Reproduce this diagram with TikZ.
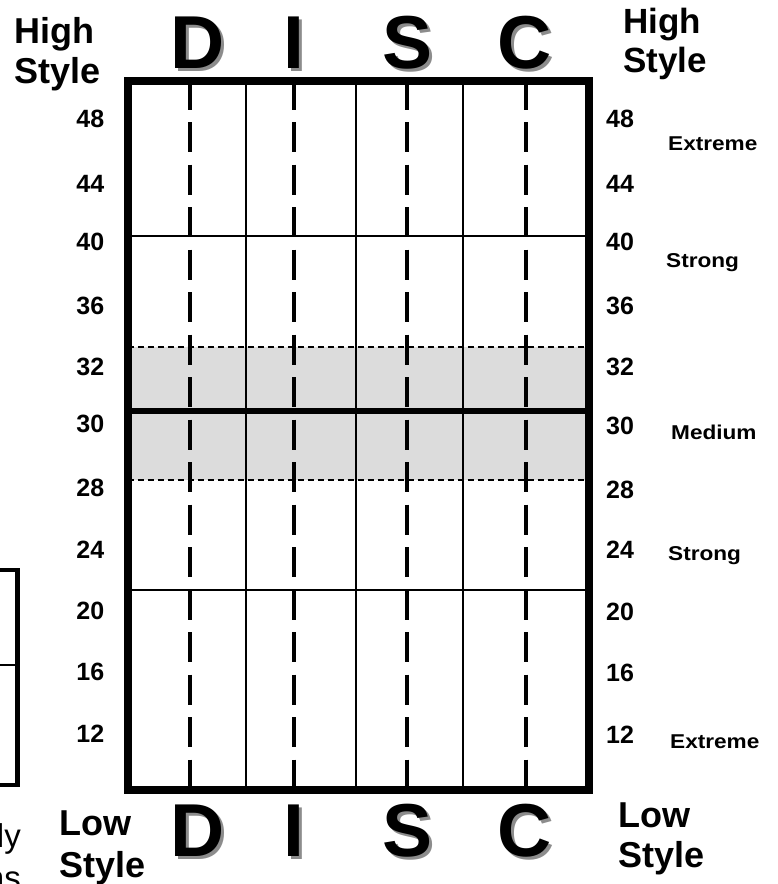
\documentclass[tikz,border=0pt]{standalone}
\usepackage{fontspec}
\setmainfont{Liberation Sans}
\begin{document}
\begin{tikzpicture}[x=1pt,y=-1pt,
  bigltr/.style={font=\fontsize{75}{75}\selectfont\bfseries, anchor=base, inner sep=0pt},
  bigshadow/.style={bigltr, text=black!45},
  stylelbl/.style={font=\fontsize{36}{40}\selectfont\bfseries, anchor=base west, inner sep=0pt},
  numlbl/.style={font=\fontsize{25}{25}\selectfont\bfseries, inner sep=0pt},
  wordlbl/.style={font=\fontsize{20}{20}\selectfont\bfseries, anchor=base west, inner sep=0pt},
  frameline/.style={line width=8pt},
  thinv/.style={line width=1.4pt},
  thickdash/.style={line width=4pt, dash pattern=on 30pt off 12.5pt, dash phase=0pt},
  bandedge/.style={line width=1.4pt, dash pattern=on 6pt off 4pt},
  midline/.style={line width=2.6pt},
  centerline/.style={line width=6pt}]
\useasboundingbox (0,0) rectangle (778,884);
\fill[white] (0,0) rectangle (778,884);

% gray band
\fill[fill={rgb,255:red,220;green,220;blue,220}] (127.5,347) rectangle (589,480);

% thin vertical lines
\foreach \xx in {246,356,463} \draw[thinv] (\xx,81) -- (\xx,790);

% horizontal lines
\draw[midline] (127.5,236) -- (589,236);
\draw[midline] (127.5,590) -- (589,590);
\draw[centerline] (127.5,410.5) -- (589,410.5);
\draw[bandedge] (127.5,347) -- (589,347);
\draw[bandedge] (127.5,480) -- (589,480);

% thick dashed vertical lines
\foreach \xx in {189.5,294,407,526} \draw[thickdash] (\xx,79.5) -- (\xx,790);

% frame
\draw[frameline] (127.5,81) rectangle (589,790);

% partial box at left edge
\draw[line width=4.5pt] (-20,570) -- (17.5,570) -- (17.5,785) -- (-20,785);
\draw[line width=1.4pt] (-20,665) -- (17.5,665);
\node[font=\fontsize{33}{38}\selectfont, anchor=base east, inner sep=0pt] (ly) at (21,847) {ly};
\node[font=\fontsize{33}{38}\selectfont, anchor=base east, inner sep=0pt] (ns) at (21,889) {ns};

% DISC letters top and bottom
\foreach \nm/\ch/\xx in {d/D/198,i/I/293.5,s/S/407.5,c/C/525} {
  \node[bigshadow] (\nm ts) at (\xx+3,71) {\ch};
  \node[bigltr] (\nm t) at (\xx,68) {\ch};
  \node[bigshadow] (\nm bs) at (\xx+3,859) {\ch};
  \node[bigltr] (\nm b) at (\xx,856) {\ch};
}

% High / Low Style labels
\node[stylelbl] (hl1) at (14,43) {High};
\node[stylelbl] (hl2) at (14,83) {Style};
\node[stylelbl, font=\fontsize{35}{40}\selectfont\bfseries] (hr1) at (623,33) {High};
\node[stylelbl, font=\fontsize{35}{40}\selectfont\bfseries] (hr2) at (623,72) {Style};
\node[stylelbl] (ll1) at (59,835) {Low};
\node[stylelbl] (ll2) at (59,877) {Style};
\node[stylelbl] (lr1) at (618,827) {Low};
\node[stylelbl] (lr2) at (618,867) {Style};

% left numbers
\foreach \nn/\yy in {48/118,44/183,40/241,36/305,32/366,30/423,28/487,24/549,20/610,16/671,12/733}
  \node[numlbl, anchor=base east] (nl\nn) at (104.5,\yy+9) {\nn};
% right numbers
\foreach \nn/\yy in {48/118,44/183,40/241,36/305,32/366,30/425,28/489,24/549,20/611,16/672,12/734}
  \node[numlbl, anchor=base west] (nr\nn) at (606,\yy+9) {\nn};

% right words
\node[wordlbl] (w1) at (668,150) {\scalebox{1.13}[1]{Extreme}};
\node[wordlbl] (w2) at (666,267) {\scalebox{1.13}[1]{Strong}};
\node[wordlbl] (w3) at (671,439) {\scalebox{1.13}[1]{Medium}};
\node[wordlbl] (w4) at (668,560) {\scalebox{1.13}[1]{Strong}};
\node[wordlbl] (w5) at (670,748) {\scalebox{1.13}[1]{Extreme}};
\end{tikzpicture}
\end{document}
